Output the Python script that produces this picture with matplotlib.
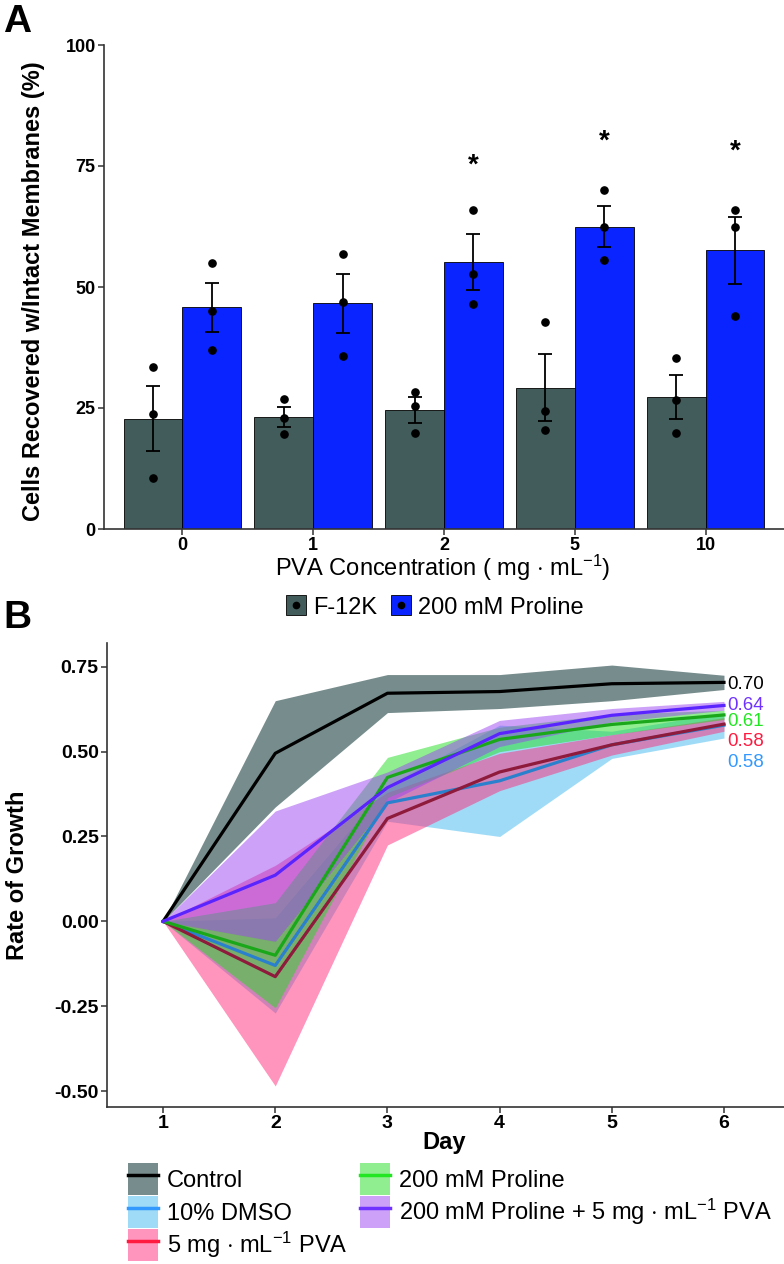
import matplotlib
matplotlib.use('Agg')
import matplotlib.pyplot as plt
import numpy as np
from matplotlib.patches import Patch
from matplotlib.lines import Line2D

plt.rcParams['font.family'] = ['Liberation Sans', 'DejaVu Sans']
plt.rcParams['axes.unicode_minus'] = False
plt.rcParams['mathtext.fontset'] = 'custom'
plt.rcParams['mathtext.rm'] = 'Liberation Sans'
plt.rcParams['mathtext.it'] = 'Liberation Sans:italic'
plt.rcParams['mathtext.bf'] = 'Liberation Sans:bold'

# ---------------- Panel A data ----------------
conc = ['0', '1', '2', '5', '10']
f12k_mean = [22.8, 23.2, 24.6, 29.2, 27.3]
f12k_se = [6.7, 2.1, 2.6, 6.9, 4.5]
pro_mean = [45.8, 46.6, 55.1, 62.5, 57.6]
pro_se = [5.1, 6.1, 5.8, 4.2, 6.9]
f12k_pts = [[33.5, 23.8, 10.5], [26.9, 23.0, 19.7], [28.4, 25.5, 19.9],
            [42.7, 24.4, 20.5], [35.4, 26.7, 19.9]]
pro_pts = [[54.9, 45.1, 37.0], [56.9, 47.0, 35.8], [66.0, 52.6, 46.4],
           [70.0, 62.5, 55.5], [66.0, 62.5, 44.1]]
star_conc = ['2', '5', '10']
star_y = [75.0, 80.0, 78.0]

# ---------------- Panel B data ----------------
days = [1, 2, 3, 4, 5, 6]
groups = ['Control', '10% DMSO', '5 mg $\\cdot$ mL$^{-1}$ PVA', '200 mM Proline',
          '200 mM Proline + 5 mg $\\cdot$ mL$^{-1}$ PVA']
control_mean = [0, 0.495, 0.672, 0.677, 0.700, 0.704]
control_lo = [0, 0.337, 0.615, 0.627, 0.650, 0.683]
control_hi = [0, 0.650, 0.727, 0.727, 0.755, 0.725]
dmso_mean = [0, -0.130, 0.349, 0.414, 0.520, 0.578]
dmso_lo = [0, -0.270, 0.295, 0.250, 0.480, 0.540]
dmso_hi = [0, 0.010, 0.400, 0.578, 0.560, 0.615]
pva_mean = [0, -0.163, 0.303, 0.440, 0.520, 0.581]
pva_lo = [0, -0.485, 0.225, 0.385, 0.490, 0.560]
pva_hi = [0, 0.165, 0.380, 0.495, 0.550, 0.600]
pro_g_mean = [0, -0.100, 0.424, 0.536, 0.580, 0.608]
pro_g_lo = [0, -0.255, 0.365, 0.500, 0.550, 0.595]
pro_g_hi = [0, 0.055, 0.483, 0.572, 0.610, 0.622]
propva_mean = [0, 0.136, 0.394, 0.553, 0.607, 0.636]
propva_lo = [0, -0.059, 0.350, 0.515, 0.587, 0.622]
propva_hi = [0, 0.325, 0.440, 0.592, 0.627, 0.648]

W, H = 784, 1264
fig = plt.figure(figsize=(W / 100, H / 100), dpi=100)


def rect(l, t, r, b):
    return [l / W, 1 - b / H, (r - l) / W, (b - t) / H]


AX_COL = '#333333'


def style_axes(ax, fs):
    for s in ['top', 'right']:
        ax.spines[s].set_visible(False)
    for s in ['left', 'bottom']:
        ax.spines[s].set_color(AX_COL)
        ax.spines[s].set_linewidth(1.2)
    ax.tick_params(axis='both', colors=AX_COL, length=4, width=1.1,
                   labelcolor='black', labelsize=fs, pad=2)
    for lab in ax.get_xticklabels() + ax.get_yticklabels():
        lab.set_fontweight('bold')


# ================= Panel A =================
axA = fig.add_axes(rect(104, 45, 784, 529))
x = np.arange(1, len(conc) + 1)
bw = 0.45
gray = '#425b5b'
blue = '#0a24ff'
axA.bar(x - bw / 2, f12k_mean, bw, color=gray, edgecolor='black', linewidth=0.6, zorder=2)
axA.bar(x + bw / 2, pro_mean, bw, color=blue, edgecolor='black', linewidth=0.6, zorder=2)
axA.errorbar(x - bw / 2, f12k_mean, yerr=f12k_se, fmt='none', ecolor='black',
             elinewidth=1.3, capsize=4.8, capthick=1.3, zorder=3)
axA.errorbar(x + bw / 2, pro_mean, yerr=pro_se, fmt='none', ecolor='black',
             elinewidth=1.3, capsize=4.8, capthick=1.3, zorder=3)
for i in range(len(conc)):
    axA.plot([x[i] - bw / 2] * len(f12k_pts[i]), f12k_pts[i], 'o', color='black',
             ms=5.2, zorder=4)
    axA.plot([x[i] + bw / 2] * len(pro_pts[i]), pro_pts[i], 'o', color='black',
             ms=5.2, zorder=4)
for c, sy in zip(star_conc, star_y):
    xi = x[conc.index(c)] + bw / 2
    axA.text(xi, sy, '*', ha='center', va='center', fontsize=20, fontweight='bold')
axA.set_xlim(0.4, 5.6)
axA.set_ylim(0, 100)
axA.set_xticks(x)
axA.set_xticklabels(conc)
axA.set_yticks([0, 25, 50, 75, 100])
style_axes(axA, 13)

fig.text(34 / W, 1 - 291 / H, 'Cells Recovered w/Intact Membranes (%)', rotation=90,
         ha='center', va='center', fontsize=17, fontweight='bold')
fig.text(443 / W, 1 - 568 / H, 'PVA Concentration ( mg $\\cdot$ mL$^{-1}$)',
         ha='center', va='center', fontsize=17)
fig.text(3 / W, 1 - 32 / H, 'A', fontsize=28, fontweight='bold', va='baseline')

handlesA = [(Patch(facecolor=gray, edgecolor='black', linewidth=0.6),
             Line2D([], [], marker='o', color='black', ls='', ms=4.5)),
            (Patch(facecolor=blue, edgecolor='black', linewidth=0.6),
             Line2D([], [], marker='o', color='black', ls='', ms=4.5))]
fig.legend(handlesA, ['F-12K', '200 mM Proline'], loc='center',
           bbox_to_anchor=(435 / W, 1 - 607 / H), ncol=2, frameon=False,
           fontsize=17, handlelength=0.85, handleheight=0.93, handletextpad=0.3,
           columnspacing=0.6, borderpad=0)

# ================= Panel B =================
axB = fig.add_axes(rect(107, 643, 784, 1107))
# (mean, lo, hi, drawn line colour, key/label colour, ribbon fill, alpha)
series = [
    (control_mean, control_lo, control_hi, 'black', 'black', '#2F4F4F', 0.65),
    (dmso_mean, dmso_lo, dmso_hi, '#2a80cc', '#3399ff', '#40b8ee', 0.5),
    (pva_mean, pva_lo, pva_hi, '#8e1a3c', '#ff1a40', '#ff2a7a', 0.5),
    (pro_g_mean, pro_g_lo, pro_g_hi, '#1aa81a', '#22e622', '#22dd22', 0.5),
    (propva_mean, propva_lo, propva_hi, '#5a24ff', '#7033ff', '#9a44f0', 0.5),
]
z = 2
for mean, lo, hi, lc, kc, fc, al in series:
    axB.fill_between(days, lo, hi, color=fc, alpha=al, linewidth=0, zorder=z)
    z += 1
for mean, lo, hi, lc, kc, fc, al in series:
    axB.plot(days, mean, color=lc, lw=2.3, zorder=z)
    z += 1

# label y positions (top to bottom order as placed on the chart)
label_y = {0: 0.697, 4: 0.635, 3: 0.590, 2: 0.530, 1: 0.468}
for i, (mean, lo, hi, lc, kc, fc, al) in enumerate(series):
    axB.text(6.03, label_y[i], f'{mean[-1]:.2f}', color=kc, fontsize=13.5,
             ha='left', va='center', zorder=20)

axB.set_xlim(0.5, 6.535)
axB.set_ylim(-0.547, 0.82)
axB.set_xticks(days)
axB.set_yticks([-0.5, -0.25, 0, 0.25, 0.5, 0.75])
axB.set_yticklabels(['%.2f' % v for v in [-0.5, -0.25, 0, 0.25, 0.5, 0.75]])
style_axes(axB, 14)

fig.text(18 / W, 1 - 875 / H, 'Rate of Growth', rotation=90, ha='center',
         va='center', fontsize=17, fontweight='bold')
fig.text(444 / W, 1 - 1142 / H, 'Day', ha='center', va='center', fontsize=17,
         fontweight='bold')
fig.text(3 / W, 1 - 628 / H, 'B', fontsize=28, fontweight='bold', va='baseline')

handlesB = []
for mean, lo, hi, lc, kc, fc, al in series:
    handlesB.append((Patch(facecolor=fc, alpha=al, linewidth=0),
                     Line2D([], [], color=kc, lw=2.5)))
fig.legend(handlesB, groups, loc='upper left',
           bbox_to_anchor=(128 / W, 1 - 1163 / H), ncol=2, frameon=False,
           fontsize=17, handlelength=1.27, handleheight=1.71, handletextpad=0.38,
           columnspacing=0.55, labelspacing=0.05, borderpad=0, borderaxespad=0)

fig.savefig('out.png', dpi=100)
